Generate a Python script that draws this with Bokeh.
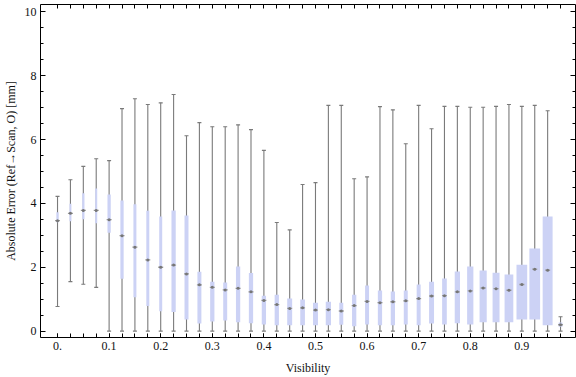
from bokeh.plotting import figure
from bokeh.models import FixedTicker, LinearAxis, Range1d
from bokeh.embed import file_html
from bokeh.resources import INLINE

# ---- data ----
visibility = [0.0, 0.025, 0.05, 0.075, 0.1, 0.125, 0.15, 0.175, 0.2, 0.225,
              0.25, 0.275, 0.3, 0.325, 0.35, 0.375, 0.4, 0.425, 0.45, 0.475,
              0.5, 0.525, 0.55, 0.575, 0.6, 0.625, 0.65, 0.675, 0.7, 0.725,
              0.75, 0.775, 0.8, 0.825, 0.85, 0.875, 0.9, 0.925, 0.95, 0.975]
whisker_low = [0.77, 1.55, 1.47, 1.37, 0, 0, 0, 0, 0, 0,
               0, 0, 0, 0, 0, 0, 0, 0, 0, 0,
               0, 0, 0, 0, 0, 0, 0, 0, 0, 0,
               0, 0, 0, 0, 0, 0, 0, 0, 0, 0]
q1 = [3.41, 3.44, 3.50, 3.38, 3.08, 1.64, 1.06, 0.79, 0.62, 0.60,
      0.36, 0.24, 0.30, 0.33, 0.28, 0.25, 0.21, 0.18, 0.18, 0.18,
      0.18, 0.18, 0.20, 0.15, 0.21, 0.18, 0.18, 0.21, 0.18, 0.24,
      0.21, 0.25, 0.21, 0.28, 0.28, 0.28, 0.36, 0.36, 0.18, 0.14]
median = [3.46, 3.69, 3.78, 3.78, 3.49, 2.99, 2.63, 2.23, 2.00, 2.07,
          1.79, 1.45, 1.37, 1.29, 1.34, 1.23, 0.96, 0.83, 0.71, 0.73,
          0.66, 0.67, 0.63, 0.80, 0.93, 0.89, 0.92, 0.95, 1.02, 1.10,
          1.11, 1.23, 1.26, 1.35, 1.33, 1.28, 1.46, 1.94, 1.91, 0.20]
q3 = [3.72, 3.99, 4.32, 4.47, 4.28, 4.09, 3.97, 3.77, 3.59, 3.78,
      3.62, 1.86, 1.55, 1.52, 2.02, 1.82, 1.11, 1.14, 1.02, 0.99,
      0.89, 0.92, 0.89, 1.14, 1.43, 1.27, 1.24, 1.27, 1.46, 1.55,
      1.65, 1.87, 2.02, 1.90, 1.83, 1.77, 2.08, 2.59, 3.59, 0.27]
whisker_high = [4.22, 4.74, 5.16, 5.40, 5.34, 6.97, 7.28, 7.10, 7.15, 7.41,
                6.12, 6.53, 6.40, 6.40, 6.46, 6.31, 5.66, 3.40, 3.17, 4.59,
                4.65, 7.07, 7.07, 4.77, 4.83, 7.03, 6.93, 5.87, 7.07, 6.34,
                7.04, 7.04, 7.01, 7.01, 7.04, 7.10, 7.04, 7.07, 6.90, 0.45]
# relative box widths (boxes get wider where more samples are present)
rel_width = [2.3, 2.0, 2.3, 2.0, 3.3, 3.3, 3.0, 3.0, 3.0, 4.3,
             4.0, 4.0, 4.3, 4.0, 4.3, 4.3, 4.3, 4.3, 5.0, 4.7,
             5.0, 5.3, 4.0, 4.3, 4.0, 4.3, 4.3, 4.0, 4.0, 5.0,
             4.7, 5.3, 6.3, 7.2, 7.0, 8.8, 10.8, 10.8, 10.0, 3.8]
x_major = [0.0, 0.1, 0.2, 0.3, 0.4, 0.5, 0.6, 0.7, 0.8, 0.9]
y_major = [0, 2, 4, 6, 8, 10]
y_minor = [0, 0.5, 1, 1.5, 2, 2.5, 3, 3.5, 4, 4.5, 5, 5.5, 6, 6.5, 7, 7.5,
           8, 8.5, 9, 9.5, 10]

FONT = "Liberation Serif"
X0, X1 = -0.033, 1.004
Y0, Y1 = -0.2, 10.23
W, H = 576, 377
ML, MR, MT, MB = 36, 1, 4, 40
px_per_unit = (W - ML - MR) / (X1 - X0)
box_w = [w / px_per_unit for w in rel_width]

p = figure(width=W, height=H, x_range=Range1d(X0, X1), y_range=Range1d(Y0, Y1),
           output_backend="svg", toolbar_location=None,
           min_border_left=ML, min_border_right=MR, min_border_top=MT,
           min_border_bottom=MB)
p.grid.visible = False
p.outline_line_color = "black"
p.outline_line_width = 1
p.background_fill_color = "white"
p.border_fill_color = "white"

# whiskers
p.segment(x0=visibility, y0=whisker_low, x1=visibility, y1=whisker_high,
          line_color="#7a7a7a", line_width=1.1)
p.scatter(x=visibility, y=whisker_high, marker="dash", size=4,
          line_color="#7a7a7a", line_width=1.1)
p.scatter(x=visibility, y=whisker_low, marker="dash", size=4,
          line_color="#7a7a7a", line_width=1.1)
# boxes
p.vbar(x=visibility, width=box_w, bottom=q1, top=q3,
       fill_color="#ccd2f5", line_color=None)
# medians
p.scatter(x=visibility, y=median, marker="dash", size=5,
          line_color="#9a9a9a", line_width=1.3)
p.scatter(x=visibility, y=median, marker="circle", size=3,
          fill_color="#767676", line_color=None)

# bottom axis
xa = p.xaxis[0]
xa.ticker = FixedTicker(ticks=x_major, minor_ticks=visibility)
xa.major_label_overrides = {0: "0."}
xa.major_tick_in = 4
xa.major_tick_out = 0
xa.minor_tick_in = 4
xa.minor_tick_out = 0
xa.axis_line_color = None
xa.major_tick_line_color = "black"
xa.minor_tick_line_color = "black"
xa.major_label_text_font = FONT
xa.major_label_text_font_size = "12px"
xa.major_label_text_color = "#111111"
xa.major_label_standoff = 4
xa.axis_label = "Visibility"
xa.axis_label_text_font = FONT
xa.axis_label_text_font_size = "12px"
xa.axis_label_text_font_style = "normal"
xa.axis_label_text_color = "#111111"
xa.axis_label_standoff = 8

# left axis
ya = p.yaxis[0]
ya.ticker = FixedTicker(ticks=y_major, minor_ticks=y_minor)
ya.major_tick_in = 5
ya.major_tick_out = 0
ya.minor_tick_in = 3
ya.minor_tick_out = 0
ya.axis_line_color = None
ya.major_tick_line_color = "black"
ya.minor_tick_line_color = "black"
ya.major_label_text_font = FONT
ya.major_label_text_font_size = "12px"
ya.major_label_text_color = "#111111"
ya.major_label_standoff = 4
ya.axis_label = "Absolute Error (Ref\u2192Scan, O) [mm]"
ya.axis_label_text_font = FONT
ya.axis_label_text_font_size = "12px"
ya.axis_label_text_font_style = "normal"
ya.axis_label_text_color = "#111111"
ya.axis_label_standoff = 4

# top frame ticks
top = LinearAxis(ticker=FixedTicker(ticks=[], minor_ticks=visibility),
                 major_tick_in=0, major_tick_out=0,
                 minor_tick_in=4, minor_tick_out=0,
                 axis_line_color=None, minor_tick_line_color="black",
                 major_label_text_font_size="0px", major_label_standoff=0)
p.add_layout(top, "above")

# right frame ticks
right = LinearAxis(ticker=FixedTicker(ticks=y_major, minor_ticks=y_minor),
                   major_tick_in=5, major_tick_out=0,
                   minor_tick_in=3, minor_tick_out=0,
                   axis_line_color=None, major_tick_line_color="black",
                   minor_tick_line_color="black",
                   major_label_text_font_size="0px", major_label_standoff=0,
                   major_label_text_color=None)
p.add_layout(right, "right")

open("out.html", "w").write(file_html(p, INLINE))
